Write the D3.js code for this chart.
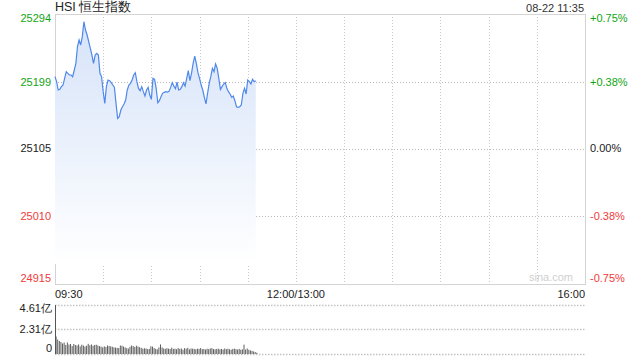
<!DOCTYPE html>
<html>
<head>
<meta charset="utf-8">
<script src="https://cdn.jsdelivr.net/npm/d3@7"></script>
<style>
  body { margin: 0; background: #fff; }
  #chart { width: 640px; height: 360px; }
  text { font-family: "Liberation Sans", Arial, sans-serif; }
</style>
</head>
<body>
<div id="chart"></div>
<script>
// 데이터
const title = 'HSI 恒生指数';
const stamp = '08-22 11:35';
const prevClose = 25105;
const priceTicks = [25294, 25199, 25105, 25010, 24915];
const pctTicks = ['+0.75%', '+0.38%', '0.00%', '-0.38%', '-0.75%'];
const timeTicks = [0, 150, 330];
const timeLabels = ['09:30', '12:00/13:00', '16:00'];
const volTicks = [4.61, 2.31, 0];
const volLabels = ['4.61亿', '2.31亿', '0'];

// 분 단위 가격 (09:30 부터)
const prices = [
  25206.0, 25199.0, 25187.3, 25188.2, 25192.0, 25194.3, 25203.7, 25213.0, 25210.7, 25208.4,
  25208.4, 25206.0, 25215.4, 25224.7, 25248.1, 25257.5, 25250.5, 25262.2, 25283.2, 25271.5,
  25264.5, 25255.1, 25245.8, 25236.4, 25224.7, 25236.4, 25238.8, 25236.4, 25210.7, 25206.0,
  25185.0, 25168.6, 25192.0, 25201.3, 25200.4, 25197.6, 25194.3, 25191.0, 25168.6, 25147.5,
  25149.9, 25159.2, 25163.9, 25167.7, 25173.3, 25187.3, 25194.3, 25196.7, 25201.3, 25208.4,
  25211.6, 25199.0, 25189.6, 25186.4, 25192.0, 25185.0, 25178.9, 25187.3, 25191.0, 25180.3,
  25174.2, 25203.7, 25202.3, 25189.6, 25169.5, 25172.3, 25177.9, 25182.6, 25184.0, 25185.0,
  25184.5, 25185.4, 25191.0, 25197.6, 25192.9, 25189.2, 25198.5, 25187.3, 25188.2, 25192.0,
  25197.6, 25192.9, 25203.7, 25214.4, 25200.4, 25210.7, 25224.7, 25235.0, 25224.7, 25211.6,
  25203.7, 25194.3, 25187.3, 25177.0, 25167.7, 25182.6, 25196.7, 25206.0, 25217.7, 25213.0,
  25223.8, 25217.7, 25203.7, 25188.2, 25192.0, 25195.7, 25197.6, 25189.6, 25185.0, 25181.7,
  25177.0, 25178.9, 25172.3, 25163.9, 25163.0, 25163.9, 25166.3, 25182.6, 25189.6, 25181.7,
  25201.3, 25199.0, 25195.7, 25202.3, 25199.0, 25200.4
];

// 분 단위 거래량 (亿)
const volumes = [
  1.65, 1.36, 1.22, 1.13, 0.99, 1.08, 0.85, 1.08, 0.89, 0.94,
  0.75, 0.94, 0.85, 0.80, 0.90, 0.72, 0.88, 0.80, 0.70, 0.78,
  0.96, 0.82, 0.90, 0.78, 0.85, 0.88, 0.80, 0.74, 0.70, 0.62,
  0.72, 0.66, 0.80, 0.76, 0.72, 0.68, 0.62, 0.60, 0.58, 0.56,
  0.80, 0.78, 0.70, 0.62, 0.55, 0.52, 0.68, 0.80, 0.74, 0.66,
  0.78, 0.70, 0.64, 0.58, 0.50, 0.54, 0.52, 0.46, 0.48, 0.72,
  0.70, 0.56, 0.48, 0.44, 0.62, 0.90, 0.62, 0.52, 0.48, 0.55,
  0.50, 0.47, 0.60, 0.48, 0.50, 0.45, 0.56, 0.48, 0.52, 0.40,
  0.55, 0.50, 0.58, 0.44, 0.52, 0.50, 0.48, 0.44, 0.50, 0.48,
  0.56, 0.46, 0.48, 0.42, 0.50, 0.46, 0.52, 0.56, 0.46, 0.44,
  0.48, 0.50, 0.44, 0.48, 0.42, 0.52, 0.46, 0.50, 0.44, 0.40,
  0.48, 0.50, 0.46, 0.42, 0.48, 0.40, 0.44, 0.88, 0.42, 0.52,
  0.40, 0.34, 0.30, 0.24, 0.18, 0.12
];

class IntradayChart {
  constructor(targetId) {
    this.element = document.getElementById(targetId);
    this.width = 640;
    this.height = 360;
    this.plot = { left: 55, right: 585, top: 14, bottom: 284 };
    this.volBox = { top: 305, bottom: 354 };
    this.lineColor = '#4f88ea';
    this.upColor = '#11a511';
    this.downColor = '#f03a3a';
    this.gridColor = '#c8c8c8';
  }

  render() {
    this.svg = d3.select(this.element)
      .append('svg')
      .attr('width', this.width)
      .attr('height', this.height);

    this.setScale();
    this.drawGrid();
    this.drawPrice();
    this.drawVolume();
    this.drawLabels();
  }

  // 스케일 설정
  setScale() {
    const p = this.plot;
    this.x = d3.scaleLinear().domain([0, 330]).range([p.left, p.right]);
    this.y = d3.scaleLinear().domain([d3.min(priceTicks), d3.max(priceTicks)]).range([p.bottom, p.top]);
    this.yVol = d3.scaleLinear().domain([0, d3.max(volTicks)]).range([this.volBox.bottom, this.volBox.top]);
  }

  // 격자 그리기
  drawGrid() {
    const p = this.plot;
    const g = this.svg.append('g').attr('class', 'grid');

    // 세로 점선 (30분 간격)
    g.selectAll('line.v')
      .data(d3.range(30, 330, 30))
      .enter()
      .append('line')
      .attr('x1', d => Math.round(this.x(d)) + 0.5)
      .attr('x2', d => Math.round(this.x(d)) + 0.5)
      .attr('y1', p.top)
      .attr('y2', p.bottom)
      .attr('stroke', this.gridColor)
      .attr('stroke-dasharray', '1,2');

    // 가로 점선
    g.selectAll('line.h')
      .data(priceTicks.slice(1, -1))
      .enter()
      .append('line')
      .attr('x1', p.left)
      .attr('x2', p.right)
      .attr('y1', d => Math.round(this.y(d)) + 0.5)
      .attr('y2', d => Math.round(this.y(d)) + 0.5)
      .attr('stroke', '#b8b8b8')
      .attr('stroke-dasharray', '1,2');

    // 테두리
    g.append('rect')
      .attr('x', p.left + 0.5)
      .attr('y', p.top + 0.5)
      .attr('width', p.right - p.left)
      .attr('height', p.bottom - p.top)
      .attr('fill', 'none')
      .attr('stroke', '#d4d4d4');

    // 거래량 점선
    g.selectAll('line.vol')
      .data(volTicks)
      .enter()
      .append('line')
      .attr('x1', p.left)
      .attr('x2', p.right)
      .attr('y1', d => Math.round(this.yVol(d)) + 0.5)
      .attr('y2', d => Math.round(this.yVol(d)) + 0.5)
      .attr('stroke', '#c4c4c4')
      .attr('stroke-width', 1.5)
      .attr('stroke-dasharray', '1.5,1.5');
  }

  // 가격 라인 그리기
  drawPrice() {
    const p = this.plot;
    const grad = this.svg.append('defs')
      .append('linearGradient')
      .attr('id', 'areaFill')
      .attr('x1', 0).attr('y1', 0).attr('x2', 0).attr('y2', 1);
    grad.append('stop').attr('offset', '0%').attr('stop-color', '#d6e3f9');
    grad.append('stop').attr('offset', '100%').attr('stop-color', '#ffffff');

    const area = d3.area()
      .x((d, i) => this.x(i))
      .y0(p.bottom - 20)
      .y1(d => this.y(d));

    this.svg.append('path')
      .datum(prices)
      .attr('d', area)
      .attr('fill', 'url(#areaFill)');

    const line = d3.line()
      .x((d, i) => this.x(i))
      .y(d => this.y(d));

    this.svg.append('path')
      .datum(prices)
      .attr('d', line)
      .attr('fill', 'none')
      .attr('stroke', this.lineColor)
      .attr('stroke-width', 1.2);

    // 워터마크
    this.svg.append('text')
      .attr('x', 573)
      .attr('y', 281)
      .attr('text-anchor', 'end')
      .attr('font-size', 11)
      .attr('fill', '#cfcfcf')
      .text('sina.com');
  }

  // 거래량 그리기
  drawVolume() {
    const b = this.volBox;
    this.svg.append('g')
      .selectAll('rect')
      .data(volumes)
      .enter()
      .append('rect')
      .attr('x', (d, i) => this.x(i) + 0.6)
      .attr('width', 1)
      .attr('y', d => this.yVol(d))
      .attr('height', d => b.bottom - this.yVol(d))
      .attr('fill', '#5e5e5e');

    this.svg.append('line')
      .attr('x1', this.plot.left + 0.5)
      .attr('x2', this.plot.left + 0.5)
      .attr('y1', b.top)
      .attr('y2', b.bottom)
      .attr('stroke', '#555');
  }

  // 축 라벨
  drawLabels() {
    const p = this.plot;
    const colorOf = v => (v > prevClose ? this.upColor : (v < prevClose ? this.downColor : '#222'));

    this.svg.append('text')
      .attr('x', p.left)
      .attr('y', 11)
      .attr('font-size', 12.5)
      .attr('fill', '#222')
      .text(title);

    this.svg.append('text')
      .attr('x', p.right - 1)
      .attr('y', 12)
      .attr('text-anchor', 'end')
      .attr('font-size', 11)
      .attr('fill', '#333')
      .text(stamp);

    const shift = i => (i === 0 ? 4 : (i === priceTicks.length - 1 ? -6 : 0));

    this.svg.append('g')
      .selectAll('text')
      .data(priceTicks)
      .enter()
      .append('text')
      .attr('x', p.left - 4)
      .attr('y', (d, i) => this.y(d) + shift(i))
      .attr('dy', '0.35em')
      .attr('text-anchor', 'end')
      .attr('font-size', 11)
      .attr('fill', d => colorOf(d))
      .text(d => d);

    this.svg.append('g')
      .selectAll('text')
      .data(pctTicks)
      .enter()
      .append('text')
      .attr('x', p.right + 5)
      .attr('y', (d, i) => this.y(priceTicks[i]) + shift(i))
      .attr('dy', '0.35em')
      .attr('font-size', 11)
      .attr('fill', (d, i) => colorOf(priceTicks[i]))
      .text(d => d);

    const anchors = ['start', 'middle', 'end'];
    this.svg.append('g')
      .selectAll('text')
      .data(timeTicks)
      .enter()
      .append('text')
      .attr('x', (d, i) => this.x(d) + (i === 0 ? 0 : (i === 2 ? 0 : 0)))
      .attr('y', 298)
      .attr('text-anchor', (d, i) => anchors[i])
      .attr('font-size', 11)
      .attr('fill', '#222')
      .text((d, i) => timeLabels[i]);

    const vShift = [3, 0, -6];
    this.svg.append('g')
      .selectAll('text')
      .data(volTicks)
      .enter()
      .append('text')
      .attr('x', p.left - 3)
      .attr('y', (d, i) => this.yVol(d) + vShift[i])
      .attr('dy', '0.35em')
      .attr('text-anchor', 'end')
      .attr('font-size', 11)
      .attr('fill', '#222')
      .text((d, i) => volLabels[i]);
  }
}

const chart = new IntradayChart('chart');
chart.render();
</script>
</body>
</html>
